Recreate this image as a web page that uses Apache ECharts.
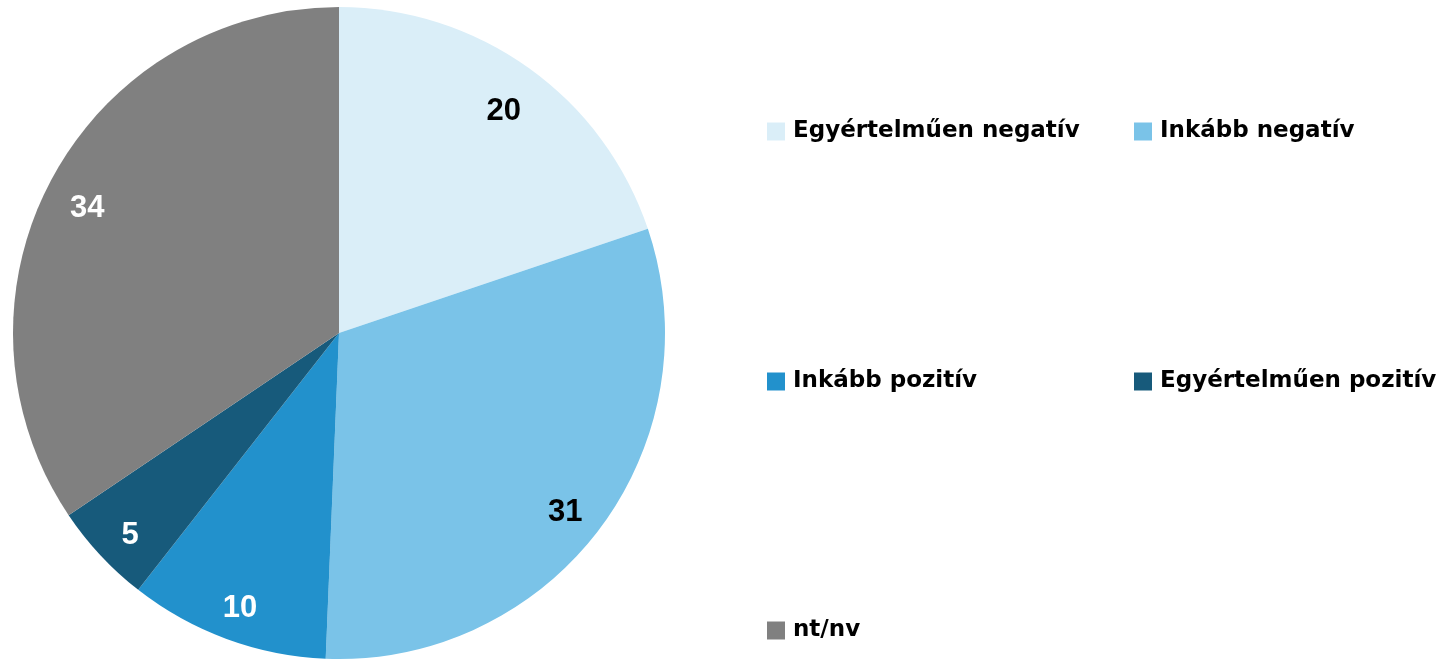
<!DOCTYPE html>
<html>
<head>
<meta charset="utf-8">
<script src="https://cdn.jsdelivr.net/npm/echarts@6/dist/echarts.min.js"></script>
<style>
  html, body { margin: 0; padding: 0; background: #fff; }
  #main { width: 1447px; height: 660px; }
</style>
</head>
<body>
<div id="main"></div>
<script>
// válaszok megoszlása (%), szeletek a kép alapján becsülve
const categories = ['Egyértelműen negatív', 'Inkább negatív', 'Inkább pozitív', 'Egyértelműen pozitív', 'nt/nv'];
const values = [19.8, 30.8, 9.9, 5.0, 34.4];
const colors = ['#DAEEF8', '#7AC3E8', '#2291CC', '#175A7B', '#808080'];
const labelColors = ['#000', '#000', '#fff', '#fff', '#fff'];

const LABEL_FONT = '"Liberation Sans", Arial, sans-serif';
const LEGEND_FONT = '"DejaVu Sans", sans-serif';

let chart = echarts.init(document.getElementById('main'));

const data = categories.map((name, i) => ({
  name: name,
  value: values[i],
  itemStyle: {color: colors[i]}
}));

// legend: two columns, three rows
const legendPos = [
  {left: 767, top: 120}, {left: 1134, top: 120},
  {left: 767, top: 370}, {left: 1134, top: 370},
  {left: 767, top: 619}
];

let option = {
  animation: false,
  legend: categories.map((name, i) => ({
    data: [name],
    left: legendPos[i].left,
    top: legendPos[i].top,
    icon: 'rect',
    itemWidth: 18,
    itemHeight: 18,
    padding: 0,
    selectedMode: false,
    textStyle: {
      fontFamily: LEGEND_FONT,
      fontWeight: 'bold',
      fontSize: 23,
      lineHeight: 18,
      padding: [0, 0, 0, 3],
      color: '#000'
    }
  })),
  series: [
    {
      type: 'pie',
      center: [339, 333],
      radius: [0, 326],
      startAngle: 90,
      clockwise: true,
      silent: true,
      label: {show: false},
      labelLine: {show: false},
      data: data
    },
    {
      // transparent ring, only used to place the value labels
      type: 'pie',
      center: [338, 342],
      radius: [240, 322],
      startAngle: 90,
      clockwise: true,
      silent: true,
      label: {
        show: true,
        position: 'inside',
        formatter: p => Math.round(p.value),
        fontFamily: LABEL_FONT,
        fontWeight: 'bold',
        fontSize: 31
      },
      labelLine: {show: false},
      data: categories.map((name, i) => ({
        name: name,
        value: values[i],
        itemStyle: {color: 'rgba(0,0,0,0)'},
        label: {color: labelColors[i]}
      }))
    }
  ]
};

chart.setOption(option);
</script>
</body>
</html>
